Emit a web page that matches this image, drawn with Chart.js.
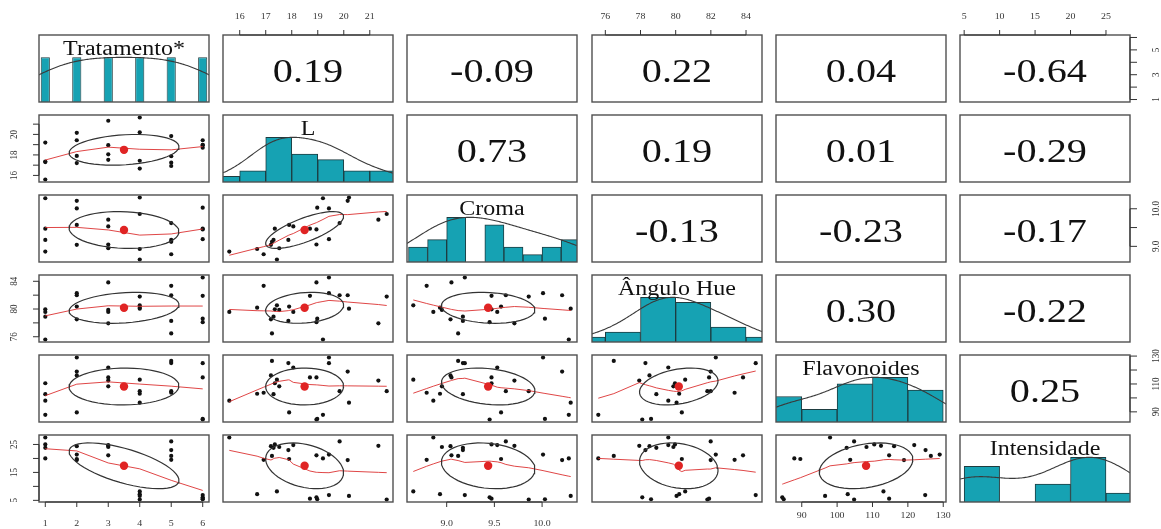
<!DOCTYPE html>
<html><head><meta charset="utf-8">
<script src="https://cdn.jsdelivr.net/npm/chart.js@4.4.1/dist/chart.umd.min.js"></script>
<style>
html,body{margin:0;padding:0;background:#fff;}
#wrap{position:relative;width:1161px;height:529px;overflow:hidden;background:#fff;}
#wrap canvas{position:absolute;}
</style></head>
<body><div id="wrap"></div>
<script>
// ---------------- DATA ----------------
const varNames = ['Tratamento*', 'L', 'Croma', 'Ângulo Hue', 'Flavonoides', 'Intensidade'];
const tratamento = [1,1,1,1, 2,2,2,2, 3,3,3,3, 4,4,4,4, 5,5,5,5, 6,6,6,6];
const L = [19.2,17.3,17.35,15.6, 20.15,19.43,17.9,17.2, 21.33,18.95,18.06,17.52, 21.65,20.2,17.43,16.67, 19.84,17.87,17.24,16.92, 19.43,18.98,18.95,18.7];
const croma = [10.28,9.17,9.47,8.86, 10.21,10.01,9.57,9.04, 9.71,9.05,9.53,8.95, 9.86,10.3,8.65,8.93, 9.62,9.17,9.12,8.79, 9.19,10.03,9.45,9.47];
const hue = [75.6,78.9,79.96,79.58, 81.99,82.28,80.35,78.51, 77.93,83.83,79.58,79.87, 81.8,80.05,80.54,80.2, 81.99,78.28,76.48,83.35, 84.55,78.6,78.1,81.9];
const flavonoides = [87.9,102.7,110.5,98.0, 118.9,129,89.6,116.1, 112.4,114.7,121.8,108.3, 104.8,96.6,113.1,103, 104.8,125,126.5,103.7, 124.9,84.9,84.5,114.7];
const intensidade = [20.0,23.8,25.0,27.5, 19.4,21.4,19.8,24.4, 24.5,21.1,24.8,24.1, 5.3,6.6,8.2,7.2, 26.1,23.0,20.9,19.5, 6.9,5.4,6.1,5.6];

// correlation labels of the upper panels, row by row
const corRow0 = ['0.19', '-0.09', '0.22', '0.04', '-0.64'];
const corRow1 = ['0.73', '0.19', '0.01', '-0.29'];
const corRow2 = ['-0.13', '-0.23', '-0.17'];
const corRow3 = ['0.30', '-0.22'];
const corRow4 = ['0.25'];

// histogram breaks (start, end, step) per variable (Tratamento uses its distinct values)
const histStart = [null, 15, 8.6, 74, 80, 5];
const histEnd   = [null, 22, 10.4, 86, 130, 30];
const histStep  = [null, 1, 0.2, 2, 10, 5];

// axis ticks
const trtTicks = [1,2,3,4,5,6];
const lTicks = [16,17,18,19,20,21];
const cromaTicks = [9.0, 9.5, 10.0];
const hueTicks = [76,78,80,82,84];
const flavTicks = [90,100,110,120,130];
const intTicks = [5,10,15,20,25];
const trtTickLabels = ['1','2','3','4','5','6'];
const lTickLabels = ['16','17','18','19','20','21'];
const cromaTickLabels = ['9.0','9.5','10.0'];
const hueTickLabels = ['76','78','80','82','84'];
const flavTickLabels = ['90','100','110','120','130'];
const intTickLabels = ['5','10','15','20','25'];
// labels shown on the vertical (side) axes
const trtSideLabels = [1,3,5];
const lSideLabels = [16,18,20];
const cromaSideLabels = [9.0, 10.0];
const hueSideLabels = [76,80,84];
const flavSideLabels = [90,110,130];
const intSideLabels = [5,15,25];

// ---------------- helpers ----------------
const vars = [tratamento, L, croma, hue, flavonoides, intensidade];
const ticksOf = [trtTicks, lTicks, cromaTicks, hueTicks, flavTicks, intTicks];
const tickLabelsOf = [trtTickLabels, lTickLabels, cromaTickLabels, hueTickLabels, flavTickLabels, intTickLabels];
const sideLabelsOf = [trtSideLabels, lSideLabels, cromaSideLabels, hueSideLabels, flavSideLabels, intSideLabels];
const corRows = [corRow0, corRow1, corRow2, corRow3, corRow4];

// style constant: width of the Tratamento bars as a fraction of the value spacing
const TRT_BAR_FRACTION = 0.29;

const mean = a => a.reduce((s, v) => s + v, 0) / a.length;
const sd = a => { const m = mean(a); return Math.sqrt(a.reduce((s, v) => s + (v - m) * (v - m), 0) / (a.length - 1)); };
const cor = (a, b) => { const ma = mean(a), mb = mean(b); let sab = 0, saa = 0, sbb = 0;
  for (let k = 0; k < a.length; k++) { sab += (a[k]-ma)*(b[k]-mb); saa += (a[k]-ma)**2; sbb += (b[k]-mb)**2; }
  return sab / Math.sqrt(saa * sbb); };
const quantile7 = (a, p) => { const s = [...a].sort((x, y) => x - y); const h = (s.length - 1) * p; const lo = Math.floor(h);
  return s[lo] + (h - lo) * (s[Math.min(lo + 1, s.length - 1)] - s[lo]); };
const lim = a => { const mn = Math.min(...a), mx = Math.max(...a), d = mx - mn; return [mn - 0.04 * d, mx + 0.04 * d]; };
const limits = vars.map(lim);

function densityCurve(a) {
  const n = a.length, iqr = quantile7(a, 0.75) - quantile7(a, 0.25);
  const bw = 1.2 * 1.06 * Math.min(sd(a), iqr / 1.34) * Math.pow(n, -0.2);
  const lo = Math.min(...a) - 3 * bw, hi = Math.max(...a) + 3 * bw;
  const pts = [];
  for (let k = 0; k <= 300; k++) { const x = lo + (hi - lo) * k / 300; let s = 0;
    for (const v of a) { const z = (x - v) / bw; s += Math.exp(-0.5 * z * z); } pts.push({x, y: s}); }
  const mx = Math.max(...pts.map(p => p.y)); pts.forEach(p => p.y /= mx);
  return pts;
}
function histBars(idx) {
  const a = vars[idx];
  if (histStart[idx] === null) {
    const u = [...new Set(a)].sort((x, y) => x - y);
    const counts = u.map(v => a.filter(w => w === v).length);
    const mx = Math.max(...counts);
    return {bars: u.map((v, k) => ({x: v, y: counts[k] / mx})), pct: TRT_BAR_FRACTION};
  }
  const st = histStart[idx], step = histStep[idx], nb = Math.round((histEnd[idx] - st) / step);
  const counts = new Array(nb).fill(0);
  for (const v of a) { let k = Math.ceil((v - st) / step - 1e-9) - 1; if (k < 0) k = 0; if (k >= nb) k = nb - 1; counts[k]++; }
  const mx = Math.max(...counts);
  return {bars: counts.map((c, k) => ({x: st + step * (k + 0.5), y: c / mx})), pct: 1};
}
function lowess(xIn, yIn, f = 2/3, nsteps = 3) {
  const n = xIn.length;
  const ord = [...Array(n).keys()].sort((a, b) => xIn[a] - xIn[b]);
  const x = ord.map(k => xIn[k]), y = ord.map(k => yIn[k]);
  const ns = Math.max(2, Math.min(n, Math.floor(f * n + 1e-7)));
  const delta = 0.01 * (x[n-1] - x[0]);
  const ys = new Array(n).fill(0), rw = new Array(n).fill(1), res = new Array(n).fill(0), w = new Array(n).fill(0);
  function lowest(xs, nleft, nright, userw) {
    const range = x[n-1] - x[0];
    const h = Math.max(xs - x[nleft], x[nright] - xs), h9 = 0.999 * h, h1 = 0.001 * h;
    let a = 0, j = nleft;
    while (j < n) {
      w[j] = 0; const r = Math.abs(x[j] - xs);
      if (r <= h9) { w[j] = r <= h1 ? 1 : Math.pow(1 - Math.pow(r / h, 3), 3); if (userw) w[j] *= rw[j]; a += w[j]; }
      else if (x[j] > xs) break;
      j++;
    }
    const nrt = j - 1;
    if (a <= 0) return null;
    for (let k = nleft; k <= nrt; k++) w[k] /= a;
    if (h > 0) {
      a = 0; for (let k = nleft; k <= nrt; k++) a += w[k] * x[k];
      let b = xs - a, c = 0;
      for (let k = nleft; k <= nrt; k++) c += w[k] * (x[k] - a) * (x[k] - a);
      if (Math.sqrt(c) > 0.001 * range) { b /= c; for (let k = nleft; k <= nrt; k++) w[k] *= (b * (x[k] - a) + 1); }
    }
    let s = 0; for (let k = nleft; k <= nrt; k++) s += w[k] * y[k];
    return s;
  }
  for (let it = 1; it <= nsteps + 1; it++) {
    let nleft = 0, nright = ns - 1, last = -1, i = 0;
    for (;;) {
      if (nright < n - 1) { const d1 = x[i] - x[nleft], d2 = x[nright + 1] - x[i]; if (d1 > d2) { nleft++; nright++; continue; } }
      const v = lowest(x[i], nleft, nright, it > 1);
      ys[i] = v === null ? y[i] : v;
      if (last < i - 1) { const den = x[i] - x[last];
        for (let k = last + 1; k < i; k++) { const al = (x[k] - x[last]) / den; ys[k] = al * ys[i] + (1 - al) * ys[last]; } }
      last = i;
      const cut = x[last] + delta;
      for (i = last + 1; i < n; i++) { if (x[i] > cut) break; if (x[i] === x[last]) { ys[i] = ys[last]; last = i; } }
      i = Math.max(last + 1, i - 1);
      if (last >= n - 1) break;
    }
    for (let k = 0; k < n; k++) res[k] = y[k] - ys[k];
    if (it > nsteps) break;
    const ar = res.map(Math.abs).sort((a, b) => a - b);
    const m1 = Math.floor(n / 2);
    const cmad = n % 2 === 0 ? 3 * (ar[m1] + ar[n - m1 - 1]) : 6 * ar[m1];
    const sc = ar.reduce((s, v) => s + v, 0) / n;
    if (cmad < 1e-7 * sc) break;
    const c9 = 0.999 * cmad, c1 = 0.001 * cmad;
    for (let k = 0; k < n; k++) { const r = Math.abs(res[k]); rw[k] = r <= c1 ? 1 : (r <= c9 ? Math.pow(1 - Math.pow(r / cmad, 2), 2) : 0); }
  }
  return x.map((xv, k) => ({x: xv, y: ys[k]}));
}
function ellipsePts(xv, yv) {
  const mx = mean(xv), my = mean(yv), sx = sd(xv), sy = sd(yv), r = cor(xv, yv);
  const th = Math.abs(r) > 0 ? Math.sign(r) / Math.SQRT2 : 1 / Math.SQRT2;
  const a = Math.sqrt(1 + r), b = Math.sqrt(1 - r);
  const pts = [];
  for (let k = 0; k <= 51; k++) { const t = k * 2 * Math.PI / 51, c = Math.cos(t), s = Math.sin(t);
    pts.push({x: (c * a * th - s * b * th) * sx + mx, y: (c * a * th + s * b * th) * sy + my}); }
  return pts;
}

// ---------------- style / layout ----------------
const M = 34, PW = 170, PH = 67;
const panelLeft = j => Math.round(39 + j * 184.2);
const panelTop = i => 35 + i * 80;
const SERIF = '"Liberation Serif", "Times New Roman", "DejaVu Serif", serif';
const TEAL = '#16a2b3';
const RED = '#e02424';
const bottomLabelOffset = {0: 24, 2: 24, 4: 16};

function sText(ctx, str, x, y, size, sx, rot) {
  ctx.save(); ctx.translate(x, y); ctx.scale(sx, 1); if (rot) ctx.rotate(rot);
  ctx.font = size + 'px ' + SERIF; ctx.textAlign = 'center'; ctx.textBaseline = 'alphabetic';
  ctx.fillText(str, 0, 0); ctx.restore();
}

const panelPlugin = {
  id: 'panel',
  afterDatasetsDraw(chart, args, opts) {
    const ctx = chart.ctx, a = chart.chartArea, xs = chart.scales.x, ys = chart.scales.y;
    const i = opts.row, j = opts.col;
    ctx.save();
    ctx.strokeStyle = '#505050'; ctx.lineWidth = 1.4;
    ctx.strokeRect(a.left, a.top, a.right - a.left, a.bottom - a.top);
    ctx.fillStyle = '#111';
    if (i === j) sText(ctx, varNames[i], (a.left + a.right) / 2, a.top + 19.5, 20, 1.2);
    if (j > i) sText(ctx, corRows[i][j - i - 1], (a.left + a.right) / 2, a.top + 0.70 * (a.bottom - a.top), 33, 1.22);
    ctx.strokeStyle = '#333'; ctx.lineWidth = 1; ctx.fillStyle = '#333';
    // top axis
    if (i === 0 && j % 2 === 1) {
      const t = ticksOf[j], lb = tickLabelsOf[j];
      ctx.beginPath(); ctx.moveTo(xs.getPixelForValue(t[0]), a.top); ctx.lineTo(xs.getPixelForValue(t[t.length-1]), a.top);
      t.forEach(v => { const p = xs.getPixelForValue(v); ctx.moveTo(p, a.top); ctx.lineTo(p, a.top - 5); }); ctx.stroke();
      t.forEach((v, k) => sText(ctx, lb[k], xs.getPixelForValue(v), a.top - 16, 9, 1.1));
    }
    // bottom axis
    if (i === 5 && j % 2 === 0) {
      const t = ticksOf[j], lb = tickLabelsOf[j];
      ctx.beginPath(); ctx.moveTo(xs.getPixelForValue(t[0]), a.bottom); ctx.lineTo(xs.getPixelForValue(t[t.length-1]), a.bottom);
      t.forEach(v => { const p = xs.getPixelForValue(v); ctx.moveTo(p, a.bottom); ctx.lineTo(p, a.bottom + 5); }); ctx.stroke();
      t.forEach((v, k) => sText(ctx, lb[k], xs.getPixelForValue(v), a.bottom + bottomLabelOffset[j], 9, 1.1));
    }
    // left axis
    if (j === 0 && i % 2 === 1) {
      const t = ticksOf[i], sl = sideLabelsOf[i], lb = tickLabelsOf[i];
      ctx.beginPath(); ctx.moveTo(a.left, ys.getPixelForValue(t[0])); ctx.lineTo(a.left, ys.getPixelForValue(t[t.length-1]));
      t.forEach(v => { const p = ys.getPixelForValue(v); ctx.moveTo(a.left, p); ctx.lineTo(a.left - 6, p); }); ctx.stroke();
      t.forEach((v, k) => { if (sl.includes(v)) sText(ctx, lb[k], a.left - 22, ys.getPixelForValue(v), 9, 1.1, -Math.PI / 2); });
    }
    // right axis
    if (j === 5 && i % 2 === 0) {
      const t = ticksOf[i], sl = sideLabelsOf[i], lb = tickLabelsOf[i];
      ctx.beginPath(); ctx.moveTo(a.right, ys.getPixelForValue(t[0])); ctx.lineTo(a.right, ys.getPixelForValue(t[t.length-1]));
      t.forEach(v => { const p = ys.getPixelForValue(v); ctx.moveTo(a.right, p); ctx.lineTo(a.right + 7, p); }); ctx.stroke();
      t.forEach((v, k) => { if (sl.includes(v)) sText(ctx, lb[k], a.right + 29, ys.getPixelForValue(v), 9, 1.1, -Math.PI / 2); });
    }
    ctx.restore();
  }
};

const wrap = document.getElementById('wrap');
function makeCanvas(i, j) {
  const c = document.createElement('canvas');
  c.width = PW + 2 * M; c.height = PH + 2 * M;
  c.style.left = (panelLeft(j) - M) + 'px'; c.style.top = (panelTop(i) - M) + 'px';
  c.style.width = (PW + 2 * M) + 'px'; c.style.height = (PH + 2 * M) + 'px';
  wrap.appendChild(c); return c;
}
function baseOptions(i, j, ymin, ymax) {
  const [xmin, xmax] = limits[j];
  return {
    responsive: false, animation: false, events: [],
    layout: {padding: M},
    plugins: {legend: {display: false}, tooltip: {enabled: false}, panel: {row: i, col: j}},
    scales: {
      x: {type: 'linear', display: false, offset: false, min: xmin, max: xmax,
          afterBuildTicks: s => { s.ticks = [{value: xmin}, {value: xmax}]; }},
      y: {type: 'linear', display: false, min: ymin, max: ymax}
    }
  };
}

for (let i = 0; i < 6; i++) {
  for (let j = 0; j < 6; j++) {
    const c = makeCanvas(i, j);
    if (i === j) {
      const h = histBars(i);
      new Chart(c, {
        type: 'bar',
        data: {datasets: [
          {type: 'line', data: densityCurve(vars[i]), borderColor: '#3a3a3a', borderWidth: 1.1, pointRadius: 0, tension: 0, fill: false, order: 1},
          {type: 'bar', data: h.bars, backgroundColor: TEAL, borderColor: '#1e3c40', borderWidth: 1,
           barPercentage: h.pct, categoryPercentage: 1, order: 2}
        ]},
        options: baseOptions(i, j, 0, 1.5),
        plugins: [panelPlugin]
      });
    } else if (j > i) {
      new Chart(c, {type: 'scatter', data: {datasets: []},
        options: baseOptions(i, j, limits[i][0], limits[i][1]), plugins: [panelPlugin]});
    } else {
      const xv = vars[j], yv = vars[i];
      const pts = xv.map((v, k) => ({x: v, y: yv[k]}));
      new Chart(c, {
        type: 'scatter',
        data: {datasets: [
          {data: [{x: mean(xv), y: mean(yv)}], pointRadius: 4.2, pointBackgroundColor: RED, pointBorderWidth: 0, order: 1},
          {data: ellipsePts(xv, yv), showLine: true, borderColor: '#333', borderWidth: 1.2, pointRadius: 0, tension: 0, order: 2},
          {data: lowess(xv, yv), showLine: true, borderColor: 'rgba(220,50,50,0.9)', borderWidth: 1, pointRadius: 0, tension: 0, order: 3},
          {data: pts, pointRadius: 2.1, pointBackgroundColor: '#111', pointBorderWidth: 0, order: 4}
        ]},
        options: baseOptions(i, j, limits[i][0], limits[i][1]),
        plugins: [panelPlugin]
      });
    }
  }
}
</script>
</body></html>
